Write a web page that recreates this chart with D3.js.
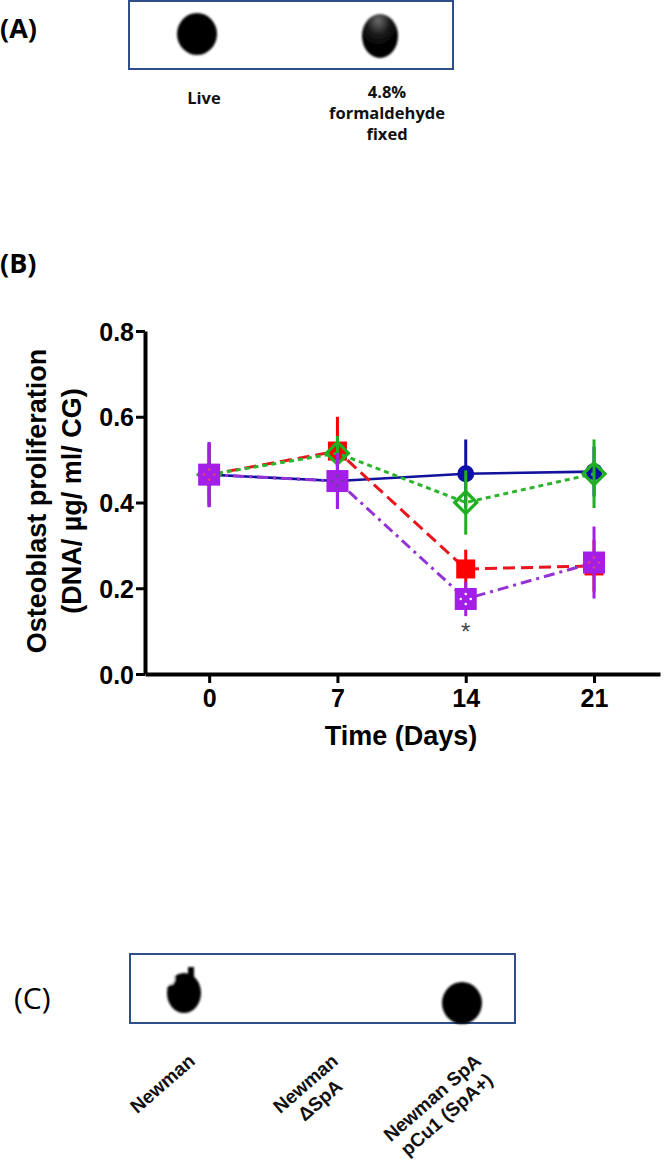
<!DOCTYPE html>
<html>
<head>
<meta charset="utf-8">
<script src="https://cdn.jsdelivr.net/npm/d3@7"></script>
<style>
  html, body { margin: 0; padding: 0; background: #fff; }
  svg { display: block; }
</style>
</head>
<body>
<svg id="fig" width="664" height="1160"></svg>
<script>
// ---------------- DATA ----------------
const days = [0, 7, 14, 21];
const yTicks = [0.0, 0.2, 0.4, 0.6, 0.8];

const blueMean   = [0.465, 0.450, 0.467, 0.472];
const blueErr    = [0.075, 0.065, 0.080, 0.058];
const redMean    = [0.465, 0.520, 0.245, 0.252];
const redErr     = [0.070, 0.080, 0.045, 0.060];
const greenMean  = [0.465, 0.515, 0.400, 0.467];
const greenErr   = [0.060, 0.040, 0.075, 0.080];
const purpleMean = [0.465, 0.450, 0.175, 0.260];
const purpleErr  = [0.076, 0.065, 0.040, 0.084];
const significant = [false, false, true, false]; // asterisk under purple

const panelALanes  = ["Live", "4.8% formaldehyde fixed"];
const panelALabels = [["Live"], ["4.8%", "formaldehyde", "fixed"]];
const panelASignal = [1, 1];

const panelCLanes  = ["Newman", "Newman ΔSpA", "Newman SpA pCu1 (SpA+)"];
const panelCLabels = [["Newman"], ["Newman", "ΔSpA"], ["Newman SpA", "pCu1  (SpA+)"]];
const panelCSignal = [1, 0, 1];

// ---------------- LAYOUT / STYLE ----------------
const svg = d3.select("#fig");
svg.append("rect").attr("width", 664).attr("height", 1160).attr("fill", "#fff");

const defs = svg.append("defs");
defs.append("filter").attr("id", "soft")
  .append("feGaussianBlur").attr("stdDeviation", 0.9);
const grad = defs.append("radialGradient").attr("id", "fadeTop")
  .attr("cx", "0.45").attr("cy", "0.15").attr("r", "0.6");
grad.append("stop").attr("offset", "0").attr("stop-color", "#6a6a6a");
grad.append("stop").attr("offset", "0.55").attr("stop-color", "#1a1a1a");
grad.append("stop").attr("offset", "1").attr("stop-color", "#000");

const labelFont = "'Open Sans', 'DejaVu Sans', sans-serif";
const chartFont = "'Liberation Sans', Arial, sans-serif";
const boxColor = "#2f4f8a";

// panel letters
svg.append("text").attr("x", 0).attr("y", 27).attr("dominant-baseline", "central")
  .attr("font-family", labelFont).attr("font-weight", 700).attr("font-size", 27).text("(A)");
svg.append("text").attr("x", 0).attr("y", 262).attr("dominant-baseline", "central")
  .attr("font-family", labelFont).attr("font-weight", 700).attr("font-size", 27).text("(B)");
svg.append("text").attr("x", 14).attr("y", 997).attr("dominant-baseline", "central")
  .attr("font-family", labelFont).attr("font-weight", 500).attr("font-size", 30).text("(C)");

// ---------------- PANEL A ----------------
const boxA = {x0: 129, x1: 453, y0: 1, y1: 69};
svg.append("rect").attr("x", boxA.x0).attr("y", boxA.y0)
  .attr("width", boxA.x1 - boxA.x0).attr("height", boxA.y1 - boxA.y0)
  .attr("fill", "none").attr("stroke", boxColor).attr("stroke-width", 2);

const xA = d3.scalePoint().domain(panelALanes).range([197, 380]);
const blotShapeA = [{rx: 20, ry: 21, cy: 34, fill: "#000"}, {rx: 18, ry: 22, cy: 36, fill: "url(#fadeTop)"}];
svg.append("g").selectAll("ellipse").data(panelALanes)
  .join("ellipse")
  .filter((d, i) => panelASignal[i] > 0)
  .attr("cx", d => xA(d))
  .attr("cy", (d, i) => blotShapeA[i].cy)
  .attr("rx", (d, i) => blotShapeA[i].rx)
  .attr("ry", (d, i) => blotShapeA[i].ry)
  .attr("fill", (d, i) => blotShapeA[i].fill)
  .attr("filter", "url(#soft)");

const aLab = svg.append("g").selectAll("g").data(panelALanes).join("g")
  .attr("transform", d => `translate(${xA(d) + 7},0)`);
aLab.each(function(d, i) {
  const lines = panelALabels[i];
  const first = lines.length === 1 ? 104 : 98;
  d3.select(this).selectAll("text").data(lines).join("text")
    .attr("x", 0).attr("y", (l, j) => first + j * 21)
    .attr("text-anchor", "middle")
    .attr("font-family", labelFont).attr("font-weight", 700).attr("font-size", 16.5)
    .attr("fill", "#111").text(l => l);
});

// ---------------- PANEL B (chart) ----------------
const x = d3.scaleLinear().domain([-3.5, 24.6]).range([145, 660]);
const y = d3.scaleLinear().domain([0, 0.8]).range([674, 331]);

const gAxY = svg.append("g").attr("transform", `translate(${x(-3.5)},0)`)
  .call(d3.axisLeft(y).tickValues(yTicks).tickFormat(d3.format(".1f")).tickSize(9).tickSizeOuter(0).tickPadding(2));
const gAxX = svg.append("g").attr("transform", `translate(0,${y(0)})`)
  .call(d3.axisBottom(x).tickValues(days).tickFormat(d3.format("d")).tickSize(9).tickSizeOuter(0).tickPadding(6));
[gAxY, gAxX].forEach(g => {
  g.select(".domain").attr("stroke", "#000").attr("stroke-width", 4);
  g.selectAll(".tick line").attr("stroke", "#000").attr("stroke-width", 3);
  g.selectAll(".tick text").attr("fill", "#000")
    .attr("font-family", chartFont).attr("font-weight", 700).attr("font-size", 25);
});
gAxY.selectAll(".tick text").attr("dy", "0.36em");

svg.append("text").attr("x", 401).attr("y", 736).attr("text-anchor", "middle")
  .attr("dominant-baseline", "central")
  .attr("font-family", chartFont).attr("font-weight", 700).attr("font-size", 27)
  .text("Time (Days)");

const yLab = svg.append("g");
[["Osteoblast proliferation", 37], ["(DNA/ µg/ ml/ CG)", 72]].forEach(([t, cx]) => {
  yLab.append("text").attr("transform", `translate(${cx},501) rotate(-90)`)
    .attr("text-anchor", "middle").attr("dominant-baseline", "central")
    .attr("font-family", chartFont).attr("font-weight", 700).attr("font-size", 27)
    .text(t);
});

const series = [
  {name: "blue",   mean: blueMean,   err: blueErr,   line: "#12129c", mark: "#0e0ea8", dash: null,           shape: "circle"},
  {name: "red",    mean: redMean,    err: redErr,    line: "#e8151c", mark: "#ff0000", dash: "12,6",         shape: "square"},
  {name: "green",  mean: greenMean,  err: greenErr,  line: "#2cb52c", mark: "#1fb01f", dash: "5,4",          shape: "diamond"},
  {name: "purple", mean: purpleMean, err: purpleErr, line: "#9333d6", mark: "#a31fe8", dash: "11,5,3,5",     shape: "psquare"}
];

const lineGen = d3.line().x(d => x(d.day)).y(d => y(d.v));

series.forEach(s => {
  const pts = days.map((d, i) => ({day: d, v: s.mean[i], e: s.err[i], i}));
  const g = svg.append("g").attr("class", "series-" + s.name);
  g.append("path").datum(pts).attr("d", lineGen)
    .attr("fill", "none").attr("stroke", s.line).attr("stroke-width", s.name === "blue" ? 2.6 : 3)
    .attr("stroke-dasharray", s.dash);
  g.selectAll("line.err").data(pts).join("line").attr("class", "err")
    .attr("x1", d => x(d.day)).attr("x2", d => x(d.day))
    .attr("y1", d => y(d.v + d.e)).attr("y2", d => y(d.v - d.e))
    .attr("stroke", s.mark).attr("stroke-width", 3);
  if (s.shape === "circle") {
    g.selectAll("circle.m").data(pts).join("circle").attr("class", "m")
      .attr("cx", d => x(d.day)).attr("cy", d => y(d.v)).attr("r", 8.5).attr("fill", s.mark);
  } else if (s.shape === "square") {
    g.selectAll("rect.m").data(pts).join("rect").attr("class", "m")
      .attr("x", d => x(d.day) - 9.5).attr("y", d => y(d.v) - 9.5)
      .attr("width", 19).attr("height", 19).attr("fill", s.mark);
  } else if (s.shape === "diamond") {
    g.selectAll("path.m").data(pts).join("path").attr("class", "m")
      .attr("transform", d => `translate(${x(d.day)},${y(d.v)})`)
      .attr("d", "M0,-11L11,0L0,11L-11,0Z")
      .attr("fill", "none").attr("stroke", s.mark).attr("stroke-width", 3.2);
  } else {
    g.selectAll("rect.m").data(pts).join("rect").attr("class", "m")
      .attr("x", d => x(d.day) - 11).attr("y", d => y(d.v) - 11)
      .attr("width", 22).attr("height", 22).attr("fill", s.mark);
    const dotOffsets = [[0, -5], [-5, 0], [5, 0], [0, 5]];
    pts.forEach(p => {
      g.selectAll(null).data(dotOffsets).join("circle")
        .attr("cx", o => x(p.day) + o[0]).attr("cy", o => y(p.v) + o[1]).attr("r", 1.3)
        .attr("fill", p.i === 2 ? "#fff" : (p.i === 1 ? "#5a4a8a" : "#e0407a"));
    });
  }
});

// significance asterisk
svg.append("g").selectAll("text").data(days.filter((d, i) => significant[i]))
  .join("text")
  .attr("x", d => x(d)).attr("y", y(0.098))
  .attr("text-anchor", "middle").attr("dominant-baseline", "central")
  .attr("font-family", chartFont).attr("font-size", 24).attr("fill", "#444").text("*");

// ---------------- PANEL C ----------------
const boxC = {x0: 130, x1: 515, y0: 954, y1: 1023};
svg.append("rect").attr("x", boxC.x0).attr("y", boxC.y0)
  .attr("width", boxC.x1 - boxC.x0).attr("height", boxC.y1 - boxC.y0)
  .attr("fill", "none").attr("stroke", boxColor).attr("stroke-width", 2);

const xC = d3.scalePoint().domain(panelCLanes).range([184, 462]);
const blotShapeC = [{cy: 993, rx: 17, ry: 20}, null, {cy: 1003, rx: 20, ry: 21}];
const blotsC = svg.append("g").attr("filter", "url(#soft)");
panelCLanes.forEach((lane, i) => {
  if (panelCSignal[i] <= 0) return;
  const b = blotShapeC[i];
  blotsC.append("ellipse").attr("cx", xC(lane)).attr("cy", b.cy)
    .attr("rx", b.rx).attr("ry", b.ry).attr("fill", "#000");
  if (i === 0) {
    blotsC.append("rect").attr("x", xC(lane) + 4).attr("y", b.cy - 26)
      .attr("width", 6).attr("height", 10).attr("fill", "#000");
    blotsC.append("circle").attr("cx", xC(lane) - 15).attr("cy", b.cy - 14).attr("r", 6).attr("fill", "#fff");
  }
});

const xCLab = d3.scalePoint().domain(panelCLanes).range([192, 478]);
const cLab = svg.append("g").selectAll("g").data(panelCLanes).join("g")
  .attr("transform", d => `translate(${xCLab(d)},1058) rotate(-41)`);
cLab.each(function(d, i) {
  const lines = panelCLabels[i];
  const g = d3.select(this);
  const texts = g.selectAll("text").data(lines).join("text")
    .attr("text-anchor", "middle").attr("dominant-baseline", "central")
    .attr("font-family", chartFont).attr("font-weight", 700).attr("font-size", 19)
    .attr("fill", "#111").text(l => l);
  let wmax = 0;
  texts.each(function() { wmax = Math.max(wmax, this.getComputedTextLength()); });
  const lh = 22;
  texts.attr("x", -wmax / 2).attr("y", (l, j) => j * lh);
});
</script>
</body>
</html>
